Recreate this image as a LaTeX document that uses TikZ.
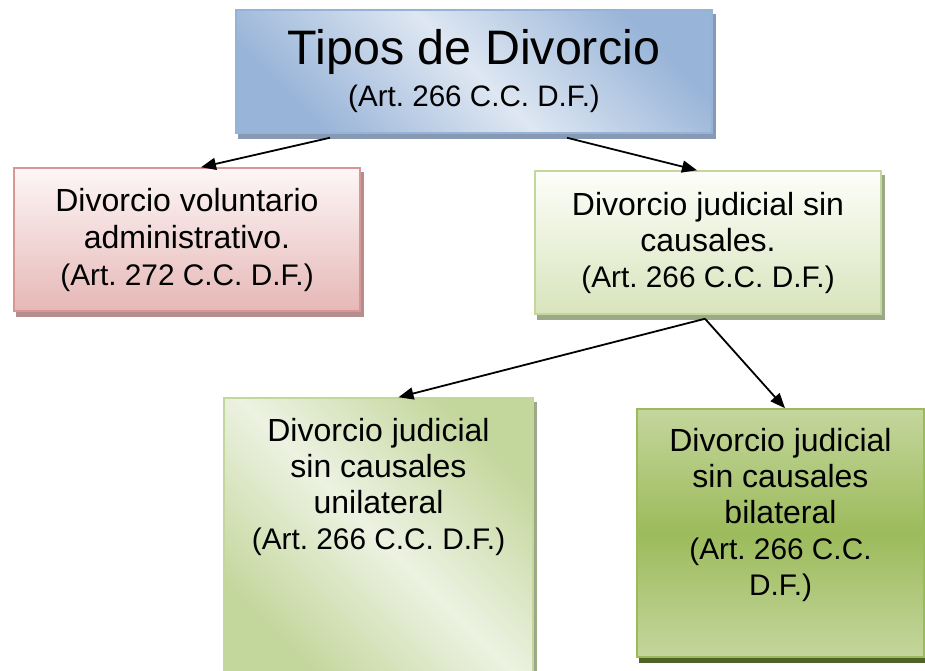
\documentclass[tikz,border=0pt]{standalone}
\usepackage{fontspec}
\setmainfont{Liberation Sans}
\usetikzlibrary{arrows.meta,backgrounds}
\frenchspacing
\definecolor{blueDark}{HTML}{98B4D8}
\definecolor{blueLight}{HTML}{DEE7F2}
\definecolor{blueBorder}{HTML}{95B3D7}
\definecolor{blueShadow}{HTML}{8799B3}
\definecolor{redTop}{HTML}{FDF6F6}
\definecolor{redBottom}{HTML}{E6B8B7}
\definecolor{redBorder}{HTML}{D99694}
\definecolor{redShadow}{HTML}{B38E8D}
\definecolor{grnTop}{HTML}{FDFEFA}
\definecolor{grnBottom}{HTML}{D8E4BC}
\definecolor{grnBorder}{HTML}{C3D69B}
\definecolor{grnShadow}{HTML}{9DA889}
\definecolor{grnDark}{HTML}{C3D69B}
\definecolor{grnLight}{HTML}{EDF2E2}
\definecolor{bilEdge}{HTML}{C4D69D}
\definecolor{bilMid}{HTML}{9CBB5B}
\definecolor{bilBorder}{HTML}{9BBB59}
\definecolor{bilShadow}{HTML}{4F6228}
\newcommand\titlesz{\fontsize{48.4}{42}\selectfont}
\newcommand\subsz{\fontsize{29.6}{42}\selectfont}
\newcommand\bodysz{\fontsize{32}{36}\selectfont}
\newcommand\artsz{\fontsize{29.8}{36}\selectfont}
\begin{document}
\begin{tikzpicture}[x=1pt,y=-1pt,
  box/.style={rectangle, line width=1.5pt, inner sep=0pt, align=center, text=black},
  txt/.style={inner sep=0pt, align=center, text=black, font=\bodysz},
  conn/.style={line width=1.8pt, -{Triangle[length=15pt,width=12pt]}}]
\useasboundingbox (0,0) rectangle (925,671);

\node[box, draw=blueBorder, shading=axis, top color=blueDark, bottom color=blueDark,
  middle color=blueLight, shading angle=-45, minimum width=476pt, minimum height=123pt,
  font=\titlesz] (top) at (474,71.5) {Tipos de Divorcio\\{\subsz (Art. 266 C.C. D.F.)}};

\node[box, draw=redBorder, top color=redTop, bottom color=redBottom,
  minimum width=346pt, minimum height=143pt, font=\fontsize{32}{37}\selectfont]
  (red) at (187,239.5) {Divorcio voluntario\\administrativo.\\{\artsz (Art. 272 C.C. D.F.)}};

\node[box, draw=grnBorder, top color=grnTop, bottom color=grnBottom,
  minimum width=346pt, minimum height=143pt, font=\bodysz]
  (jud) at (708,242.5) {Divorcio judicial sin\\causales.\\{\artsz (Art. 266 C.C. D.F.)}};

\node[box, draw=grnBorder, shading=axis, top color=grnDark, bottom color=grnDark,
  middle color=grnLight, shading angle=-45, minimum width=309pt, minimum height=278pt]
  (uni) at (378.5,537) {};
\node[txt, anchor=north] (unitxt) at ([yshift=-21pt]uni.north)
  {Divorcio judicial\\sin causales\\unilateral\\{\artsz (Art. 266 C.C. D.F.)}};

\node[box, draw=bilBorder, shading=axis, top color=bilEdge, bottom color=bilEdge,
  middle color=bilMid, minimum width=287pt, minimum height=248pt]
  (bil) at (780.5,533) {};
\node[txt, anchor=north] (biltxt) at ([yshift=-20pt]bil.north)
  {Divorcio judicial\\sin causales\\bilateral\\{\artsz (Art. 266 C.C.}\\{\artsz D.F.)}};

\begin{scope}[on background layer]
  \foreach \n/\c in {top/blueShadow, red/redShadow, jud/grnShadow, uni/grnShadow, bil/bilShadow}{
    \fill[\c] ([xshift=3pt,yshift=-5pt]\n.south west) rectangle ([xshift=3pt,yshift=-5pt]\n.north east);
  }
\end{scope}

\draw[conn] ([xshift=-144pt,yshift=-4pt]top.south) -- ([xshift=14pt]red.north);
\draw[conn] ([xshift=93pt,yshift=-4pt]top.south) -- ([xshift=-11pt]jud.north);
\draw[conn] ([xshift=-3pt,yshift=-4pt]jud.south) -- ([xshift=20pt]uni.north);
\draw[conn] ([xshift=-3pt,yshift=-4pt]jud.south) -- ([xshift=4.5pt]bil.north);
\end{tikzpicture}
\end{document}
